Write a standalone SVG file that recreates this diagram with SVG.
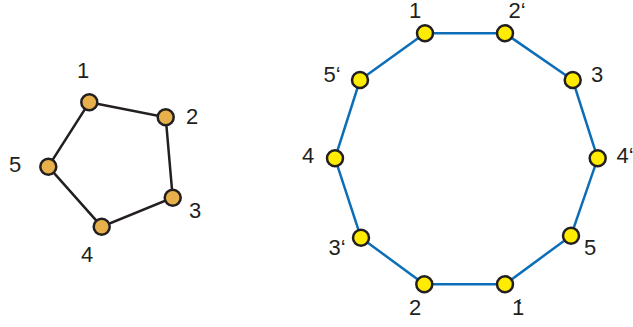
<svg xmlns="http://www.w3.org/2000/svg" width="633" height="327" viewBox="0 0 633 327">
<style>
.e1{fill:none;stroke:#231f20;stroke-width:2.5}
.e2{fill:none;stroke:#0d6eb8;stroke-width:2.5}
.n1{fill:#e8b04a;stroke:#231f20;stroke-width:2.5}
.n2{fill:#ffec00;stroke:#231f20;stroke-width:2.5}
text{font-family:"Liberation Sans",Arial,sans-serif;font-size:22px;fill:#231f20;text-anchor:middle}
</style>
<rect width="633" height="327" fill="#fff"/>
<g id="connectors">
<polygon class="e1" points="89.3,102.3 165.7,117.3 172.7,197.7 101.7,226.7 48.3,166.7"/>
<polygon class="e2" points="425,33.3 505,33.3 572.7,80 597.7,158.3 571,235.7 505,284.3 424.3,284.3 361,237.7 335,158.3 360,80"/>
</g>
<g id="p1"><circle class="n1" cx="89.3" cy="102.3" r="8"/><text x="83" y="77.5">1</text></g>
<g id="p2"><circle class="n1" cx="165.7" cy="117.3" r="8"/><text x="192" y="124">2</text></g>
<g id="p3"><circle class="n1" cx="172.7" cy="197.7" r="8"/><text x="195" y="218">3</text></g>
<g id="p4"><circle class="n1" cx="101.7" cy="226.7" r="8"/><text x="87" y="262">4</text></g>
<g id="p5"><circle class="n1" cx="48.3" cy="166.7" r="8"/><text x="15" y="172">5</text></g>
<g id="d1"><circle class="n2" cx="425" cy="33.3" r="8"/><text x="415" y="18">1</text></g>
<g id="d2p"><circle class="n2" cx="505" cy="33.3" r="8"/><text x="517" y="18">2‘</text></g>
<g id="d3"><circle class="n2" cx="572.7" cy="80" r="8"/><text x="597" y="82">3</text></g>
<g id="d4p"><circle class="n2" cx="597.7" cy="158.3" r="8"/><text x="625" y="163">4‘</text></g>
<g id="d5"><circle class="n2" cx="571" cy="235.7" r="8"/><text x="590" y="255">5</text></g>
<g id="d1p"><circle class="n2" cx="505" cy="284.3" r="8"/><text x="518" y="315">1<tspan dx="-7" dy="-1">‘</tspan></text></g>
<g id="d2"><circle class="n2" cx="424.3" cy="284.3" r="8"/><text x="415" y="315">2</text></g>
<g id="d3p"><circle class="n2" cx="361" cy="237.7" r="8"/><text x="337" y="255">3‘</text></g>
<g id="d4"><circle class="n2" cx="335" cy="158.3" r="8"/><text x="308" y="163">4</text></g>
<g id="d5p"><circle class="n2" cx="360" cy="80" r="8"/><text x="332" y="82">5‘</text></g>
</svg>
